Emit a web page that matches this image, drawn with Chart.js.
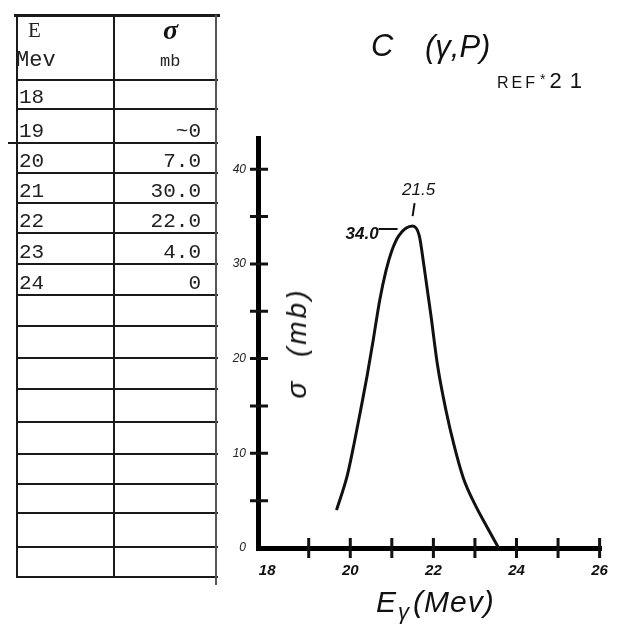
<!DOCTYPE html>
<html>
<head>
<meta charset="utf-8">
<script src="https://cdn.jsdelivr.net/npm/chart.js@4.4.1/dist/chart.umd.min.js"></script>
<style>
  html, body { margin: 0; padding: 0; background: #fff; }
  #wrap { position: relative; width: 622px; height: 627px; overflow: hidden; background: #fff; }
  #c { position: absolute; left: 0; top: 0; }
  .hand { position: absolute; white-space: nowrap; color: #111;
          font-family: "Liberation Sans", "DejaVu Sans", sans-serif; font-style: italic; }
  .tw { position: absolute; white-space: nowrap; color: #222;
        font-family: "Liberation Mono", "DejaVu Sans Mono", monospace; }
  .hl { position: absolute; height: 2px; background: #1a1a1a; }
  .vl { position: absolute; width: 2px; background: #1a1a1a; }
</style>
</head>
<body>
<div id="wrap">
  <canvas id="c" width="622" height="627"></canvas>

  <!-- title -->
  <div class="hand" style="left:371px;top:28px;font-size:31px;">C</div>
  <div class="hand" style="left:425px;top:29px;font-size:31px;">(γ,P)</div>
  <div class="hand" style="left:497px;top:68px;font-size:16px;font-style:normal;"><span style="letter-spacing:3px;">REF</span><span style="position:relative;top:-4px;font-size:14px;margin-left:2px;">*</span><span style="font-size:22px;letter-spacing:8px;margin-left:4px;">21</span></div>

  <!-- axis titles -->
  <div class="hand" style="left:297px;top:343px;font-size:28px;letter-spacing:3px;transform:translate(-50%,-50%) rotate(-90deg);transform-origin:center;">σ&nbsp;&nbsp;(mb)</div>
  <div class="hand" style="left:376px;top:585px;font-size:30px;">E<span style="font-size:22px;position:relative;top:7px;margin-left:2px;">γ</span><span style="margin-left:4px;letter-spacing:1px;">(Mev)</span></div>
</div>

<script>
// Table of measured cross sections
const tableEnergy = ['18', '19', '20', '21', '22', '23', '24'];
const tableSigma  = ['', '~0', '7.0', '30.0', '22.0', '4.0', '0'];

// Excitation curve: photon energy (MeV) and cross section (mb)
const energy = [19.67, 19.93, 20.10, 20.26, 20.41, 20.55, 20.71, 20.86, 21.0, 21.17, 21.5,
                21.66, 21.77, 21.94, 22.1, 22.3, 22.5, 22.72, 23.0, 23.28, 23.57];
const sigma  = [4.0, 7.7, 11.2, 14.8, 18.3, 21.9, 26.2, 29.3, 31.4, 33.0, 34.0,
                33.0, 29.9, 24.6, 19.3, 14.6, 10.8, 7.4, 4.6, 2.3, 0];

// Axis tick labels and tick marks
const xTickLabels = [18, 20, 22, 24, 26];
const yTickLabels = [0, 10, 20, 30, 40];
const xTickMarks = [19, 20, 21, 22, 23, 24, 25, 26];
const yTickMarks = [5, 10, 15, 20, 25, 30, 35, 40];

// ---- ruled table on the left ----
const wrap = document.getElementById('wrap');
function addDiv(cls, style, text) {
  const d = document.createElement('div');
  d.className = cls;
  d.setAttribute('style', style);
  if (text !== undefined) d.textContent = text;
  wrap.appendChild(d);
  return d;
}
const ruleY = [79, 108, 142, 172, 202, 232, 263, 294, 325, 357, 388, 421, 453, 483, 512, 546, 576];
addDiv('hl', 'left:14px;top:14px;width:206px;height:3px;');
ruleY.forEach(y => {
  const left = (y === 142) ? 8 : 16;
  addDiv('hl', `left:${left}px;top:${y}px;width:${218 - left}px;`);
});
addDiv('vl', 'left:16px;top:15px;height:563px;');
addDiv('vl', 'left:113px;top:15px;height:563px;');
addDiv('vl', 'left:215px;top:15px;height:570px;background:#555;');

addDiv('tw', 'left:28px;top:18px;font-size:21px;font-family:"Liberation Serif",serif;', 'E');
addDiv('tw', 'left:16px;top:48px;font-size:22px;', 'Mev');
addDiv('tw', 'left:163px;top:14px;font-size:28px;font-family:"Liberation Serif",serif;font-style:italic;font-weight:bold;color:#111;', 'σ');
addDiv('tw', 'left:160px;top:52px;font-size:17px;', 'mb');

tableEnergy.forEach((e, i) => {
  const bottom = ruleY[i + 1];
  addDiv('tw', `left:19px;top:${bottom - 22}px;font-size:21px;line-height:24px;`, e);
  addDiv('tw', `left:0px;width:201px;text-align:right;top:${bottom - 22}px;font-size:21px;line-height:24px;`, tableSigma[i]);
});

// ---- chart ----
const handFont = '"Liberation Sans", "DejaVu Sans", sans-serif';

// tick marks that cross both axes
const axisMarks = {
  id: 'axisMarks',
  afterDatasetsDraw(chart) {
    const { ctx, scales: { x, y }, chartArea } = chart;
    ctx.save();
    ctx.strokeStyle = '#111';
    ctx.lineWidth = 3;
    ctx.beginPath();
    xTickMarks.forEach(v => {
      const px = x.getPixelForValue(v);
      ctx.moveTo(px, chartArea.bottom - 10);
      ctx.lineTo(px, chartArea.bottom + 10);
    });
    yTickMarks.forEach(v => {
      const py = y.getPixelForValue(v);
      ctx.moveTo(chartArea.left - 8, py);
      ctx.lineTo(chartArea.left + 10, py);
    });
    ctx.stroke();
    ctx.restore();
  }
};

// peak position and height written next to the maximum
const peakNote = {
  id: 'peakNote',
  afterDatasetsDraw(chart) {
    const { ctx, scales: { x, y } } = chart;
    let k = 0;
    sigma.forEach((s, i) => { if (s > sigma[k]) k = i; });
    const px = x.getPixelForValue(energy[k]);
    const py = y.getPixelForValue(sigma[k]);
    ctx.save();
    ctx.strokeStyle = '#111';
    ctx.fillStyle = '#111';
    ctx.lineWidth = 2;
    ctx.beginPath();
    ctx.moveTo(px + 2, py - 23);
    ctx.lineTo(px, py - 10);
    ctx.moveTo(px - 34, py + 3);
    ctx.lineTo(px - 15, py + 3);
    ctx.stroke();
    ctx.font = 'italic 17px ' + handFont;
    ctx.textAlign = 'center';
    ctx.textBaseline = 'middle';
    ctx.fillText(energy[k].toFixed(1), px + 6, py - 36);
    ctx.font = 'italic bold 17px ' + handFont;
    ctx.textAlign = 'right';
    ctx.fillText(sigma[k].toFixed(1), px - 34, py + 8);
    ctx.restore();
  }
};

new Chart(document.getElementById('c'), {
  type: 'line',
  data: {
    datasets: [{
      data: energy.map((e, i) => ({ x: e, y: sigma[i] })),
      borderColor: '#111',
      borderWidth: 3,
      pointRadius: 0,
      fill: false,
      cubicInterpolationMode: 'monotone'
    }]
  },
  options: {
    responsive: false,
    animation: false,
    layout: { padding: { left: 220, top: 138, right: 10, bottom: 0 } },
    plugins: { legend: { display: false }, tooltip: { enabled: false }, title: { display: false } },
    scales: {
      x: {
        type: 'linear',
        min: 17.78,
        max: 26.04,
        afterFit(s) { s.height = 79; },
        grid: { drawOnChartArea: false, drawTicks: false },
        border: { display: true, width: 5, color: '#000' },
        ticks: {
          stepSize: 1,
          includeBounds: false,
          autoSkip: false,
          maxRotation: 0,
          padding: 14,
          color: '#111',
          font: { family: handFont, size: 15, weight: 'bold', style: 'italic' },
          callback: v => xTickLabels.includes(v) ? String(v) : ''
        }
      },
      y: {
        type: 'linear',
        min: 0,
        max: 43.3,
        afterFit(s) { s.width = 38; },
        grid: { drawOnChartArea: false, drawTicks: false },
        border: { display: true, width: 5, color: '#000' },
        ticks: {
          stepSize: 5,
          includeBounds: false,
          autoSkip: false,
          padding: 12,
          color: '#222',
          font: { family: handFont, size: 12, style: 'italic' },
          callback: v => yTickLabels.includes(v) ? String(v) : ''
        }
      }
    }
  },
  plugins: [axisMarks, peakNote]
});
</script>
</body>
</html>
